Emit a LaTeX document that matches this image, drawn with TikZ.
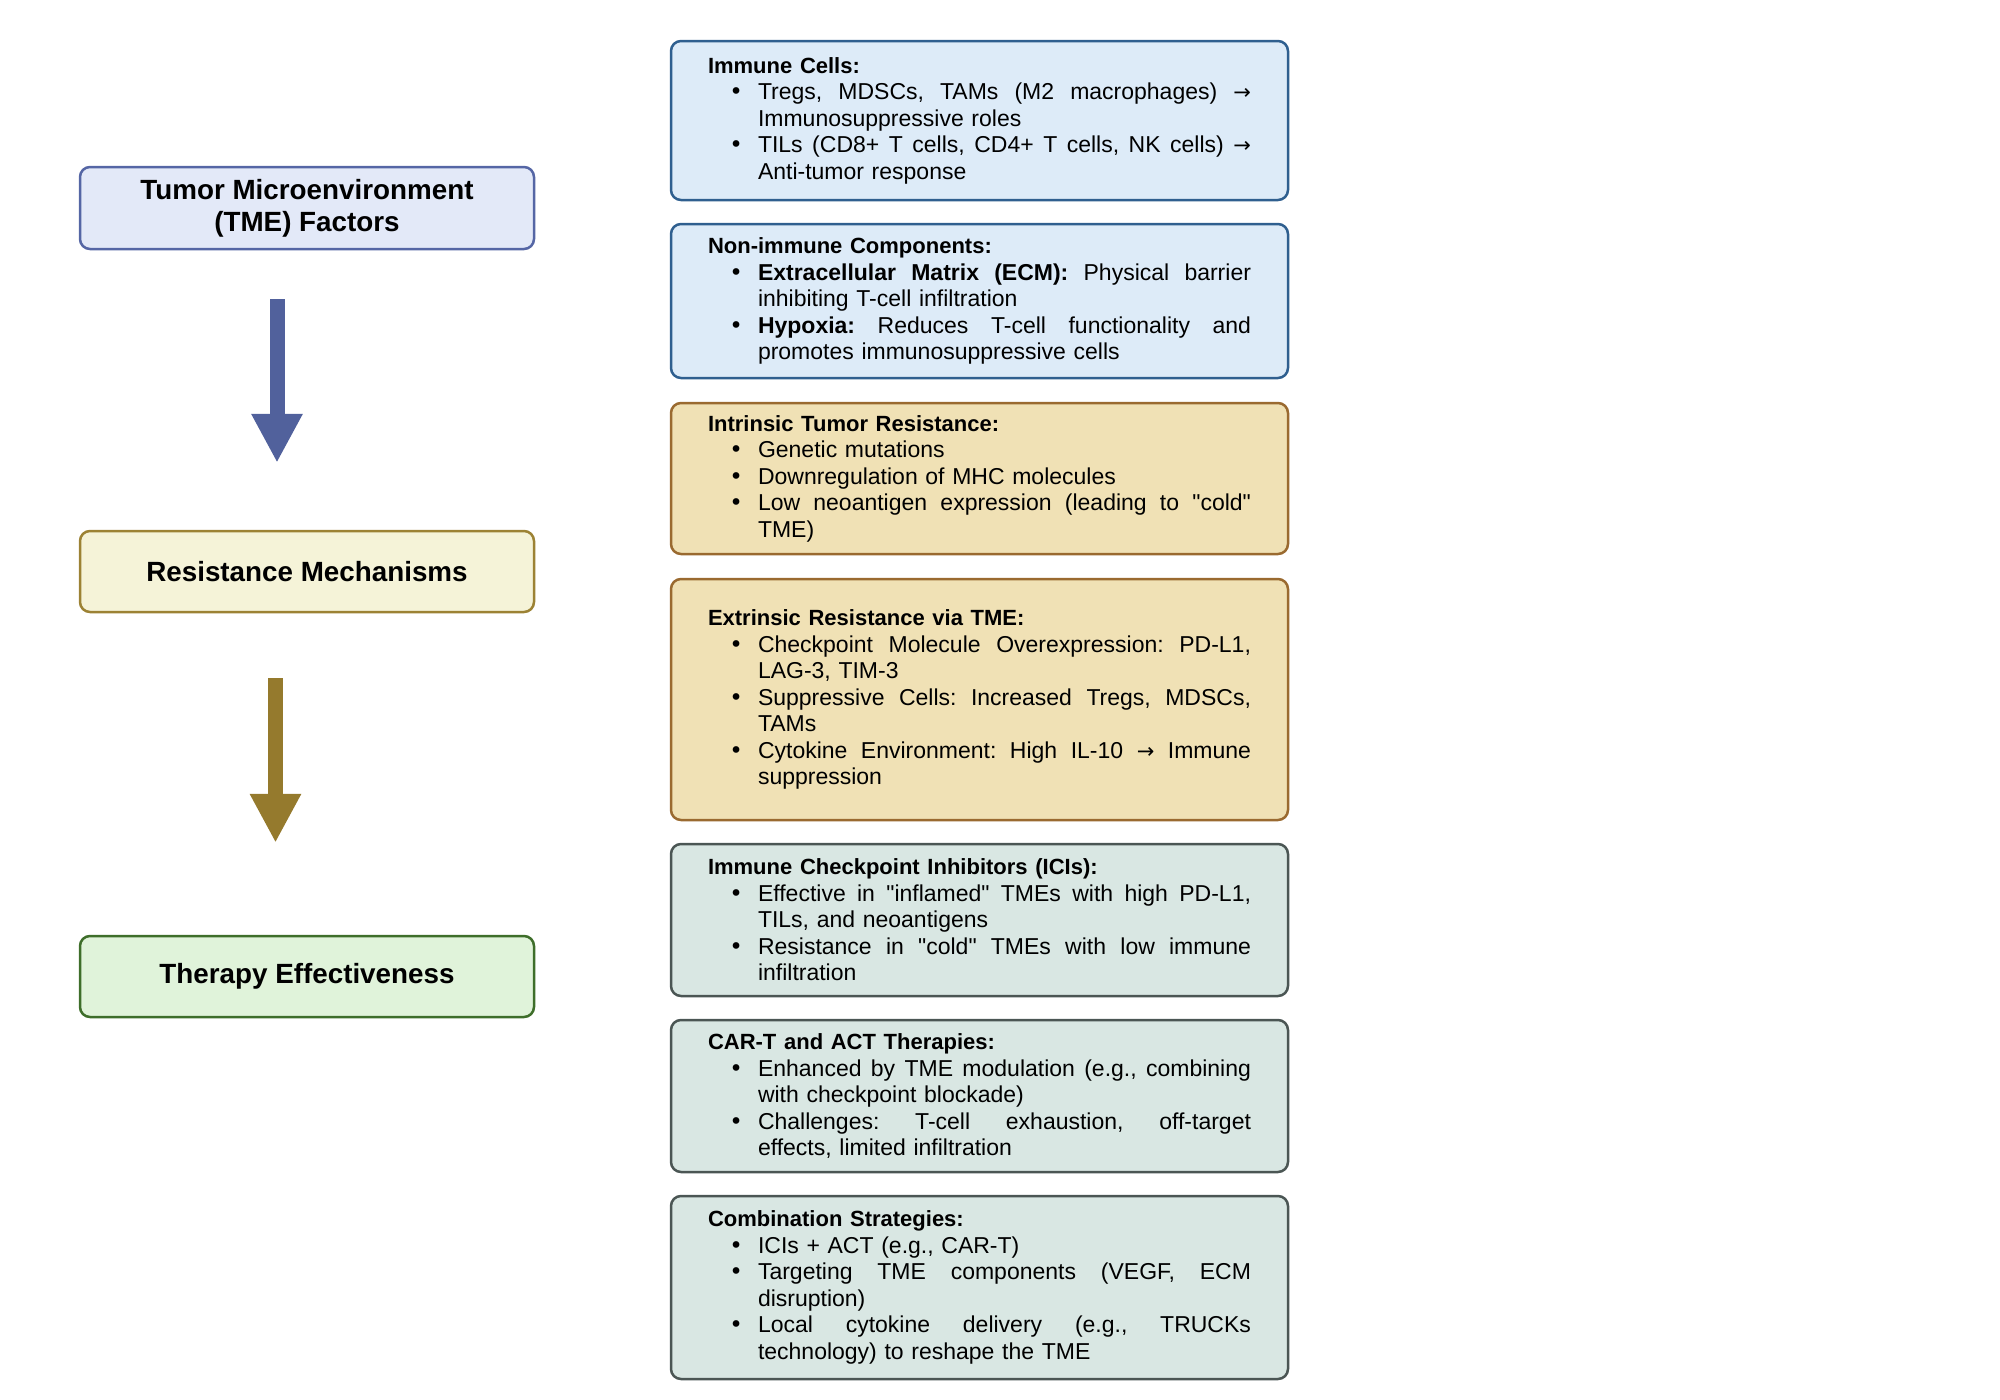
\documentclass[tikz,border=0pt]{standalone}
\usepackage{fontspec}
\setmainfont{Liberation Sans}[Ligatures=TeXOff]
\newfontfamily\djv{DejaVu Sans}
\usetikzlibrary{arrows.meta}
\definecolor{tmeFill}{HTML}{E3E9F8}
\definecolor{tmeDraw}{HTML}{5566A5}
\definecolor{arrowA}{HTML}{51619C}
\definecolor{resFill}{HTML}{F5F3D8}
\definecolor{resDraw}{HTML}{9C8234}
\definecolor{arrowB}{HTML}{957A2D}
\definecolor{therFill}{HTML}{E0F3DA}
\definecolor{therDraw}{HTML}{3E6E2A}
\definecolor{blueFill}{HTML}{DDEBF8}
\definecolor{blueDraw}{HTML}{2F5F8F}
\definecolor{tanFill}{HTML}{F0E1B5}
\definecolor{tanDraw}{HTML}{9A6A30}
\definecolor{grayFill}{HTML}{D9E7E3}
\definecolor{grayDraw}{HTML}{4B5654}
\newcommand\dq{"}
\newcommand\arr{{\djv\fontsize{21}{26.5}\selectfont →}}
\newcommand\ttl[1]{\noindent{\fontsize{22}{26.5}\selectfont\bfseries #1}\par}
\newcommand\jbox[1]{\hbox to 493pt{\spaceskip=0.278em plus 1fil minus 0.06em\relax #1}}
\newcommand\bul{\llap{{\djv •}\hspace{15pt}}}
\newcommand\bj[1]{\noindent\hspace*{50pt}\bul\jbox{#1}\par}
\newcommand\bn[1]{\noindent\hspace*{50pt}\bul#1\par}
\newcommand\cn[1]{\noindent\hspace*{50pt}#1\par}
\tikzset{
  lbox/.style={rectangle, rounded corners=10pt, line width=2.5pt, minimum width=454pt,
    align=center, inner sep=0pt, font=\fontsize{27.8}{32}\selectfont\bfseries},
  rbox/.style={rectangle, rounded corners=10pt, line width=2.5pt, text width=543pt,
    inner xsep=37pt, inner ysep=0pt, font=\fontsize{23}{26.5}\selectfont},
  bluebox/.style={rbox, fill=blueFill, draw=blueDraw},
  tanbox/.style={rbox, fill=tanFill, draw=tanDraw},
  graybox/.style={rbox, fill=grayFill, draw=grayDraw},
  bigarrow/.style={line width=15pt, -{Triangle[width=48pt,length=49pt]}}
}
\begin{document}
\frenchspacing
\begin{tikzpicture}[x=1pt,y=-1pt]
\useasboundingbox (0,0) rectangle (2000,1400);
% left column
\node[lbox, fill=tmeFill, draw=tmeDraw, minimum height=82pt] (tme) at (307,208)
  {Tumor Microenvironment\\(TME) Factors};
\node[lbox, fill=resFill, draw=resDraw, minimum height=81pt] (res) at (307,571.5)
  {Resistance Mechanisms};
\node[lbox, fill=therFill, draw=therDraw, minimum height=81pt] (ther) at (307,976.5)
  {Therapy Effectiveness};
\draw[bigarrow, draw=arrowA] ([xshift=-30pt,yshift=-49pt]tme.south) -- ([xshift=-30pt,yshift=67pt]res.north);
\draw[bigarrow, draw=arrowB] ([xshift=-31.5pt,yshift=-65pt]res.south) -- ([xshift=-31.5pt,yshift=92pt]ther.north);
% right column
\node[bluebox, minimum height=159pt] (imm) at (979.5,120.5) {%
\ttl{Immune Cells:}
\bj{Tregs, MDSCs, TAMs (M2 macrophages) \arr}
\cn{Immunosuppressive roles}
\bj{TILs (CD8+ T cells, CD4+ T cells, NK cells) \arr}
\cn{Anti-tumor response}};
\node[bluebox, minimum height=154pt] (non) at (979.5,301) {%
\ttl{Non-immune Components:}
\bj{\textbf{Extracellular Matrix (ECM):} Physical barrier}
\cn{inhibiting T-cell infiltration}
\bj{\textbf{Hypoxia:} Reduces T-cell functionality and}
\cn{promotes immunosuppressive cells}};
\node[tanbox, minimum height=151pt] (intr) at (979.5,478.5) {%
\ttl{Intrinsic Tumor Resistance:}
\bn{Genetic mutations}
\bn{Downregulation of MHC molecules}
\bj{Low neoantigen expression (leading to \dq cold\dq}
\cn{TME)}};
\node[tanbox, minimum height=241pt] (extr) at (979.5,699.5) {%
\ttl{Extrinsic Resistance via TME:}
\bj{Checkpoint Molecule Overexpression: PD-L1,}
\cn{LAG-3, TIM-3}
\bj{Suppressive Cells: Increased Tregs, MDSCs,}
\cn{TAMs}
\bj{Cytokine Environment: High IL-10 \arr{} Immune}
\cn{suppression}};
\node[graybox, minimum height=152pt] (ici) at (979.5,920) {%
\ttl{Immune Checkpoint Inhibitors (ICIs):}
\bj{Effective in \dq inflamed\dq{} TMEs with high PD-L1,}
\cn{TILs, and neoantigens}
\bj{Resistance in \dq cold\dq{} TMEs with low immune}
\cn{infiltration}};
\node[graybox, minimum height=152pt] (cart) at (979.5,1096) {%
\ttl{CAR-T and ACT Therapies:}
\bj{Enhanced by TME modulation (e.g., combining}
\cn{with checkpoint blockade)}
\bj{Challenges: T-cell exhaustion, off-target}
\cn{effects, limited infiltration}};
\node[graybox, minimum height=183pt] (comb) at (979.5,1287.5) {%
\ttl{Combination Strategies:}
\bn{ICIs + ACT (e.g., CAR-T)}
\bj{Targeting TME components (VEGF, ECM}
\cn{disruption)}
\bj{Local cytokine delivery (e.g., TRUCKs}
\cn{technology) to reshape the TME}};
\end{tikzpicture}
\end{document}
